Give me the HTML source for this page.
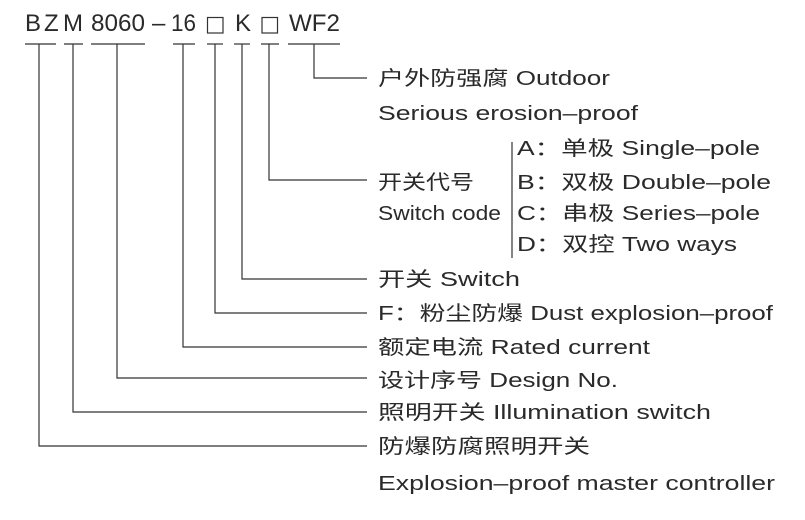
<!DOCTYPE html>
<html><head><meta charset="utf-8"><style>
html,body{margin:0;padding:0;background:#fff;}
svg{display:block}
text{font-family:"Liberation Sans","Noto Sans CJK SC",sans-serif;fill:#2a2a2a;font-size:20px;}
.t{font-size:24px;}
</style></head><body>
<svg width="805" height="520" viewBox="0 0 805 520" xmlns="http://www.w3.org/2000/svg">
<g class="t">
<text class="t" x="25" y="31">B</text>
<text class="t" x="44" y="31">Z</text>
<text class="t" x="63" y="31">M</text>
<text class="t" x="91" y="31" textLength="54" lengthAdjust="spacingAndGlyphs">8060</text>
<text class="t" x="152" y="31">–</text>
<text class="t" x="171" y="31" textLength="25" lengthAdjust="spacingAndGlyphs">16</text>
<rect x="207.5" y="17.5" width="15.5" height="15.5" fill="none" stroke="#333" stroke-width="1.2"/>
<text class="t" x="235" y="31">K</text>
<rect x="262" y="17.5" width="15.5" height="15.5" fill="none" stroke="#333" stroke-width="1.2"/>
<text class="t" x="289" y="31" textLength="51" lengthAdjust="spacingAndGlyphs">WF2</text>
</g>
<g stroke="#333" stroke-width="1.2" fill="none">
<line x1="25" y1="44" x2="56" y2="44"/>
<line x1="64" y1="44" x2="83" y2="44"/>
<line x1="91" y1="44" x2="145" y2="44"/>
<line x1="173" y1="44" x2="195" y2="44"/>
<line x1="207" y1="44" x2="223" y2="44"/>
<line x1="234" y1="44" x2="250" y2="44"/>
<line x1="261" y1="44" x2="279" y2="44"/>
<line x1="288" y1="44" x2="340" y2="44"/>
<polyline points="314,44 314,78 367,78"/>
<polyline points="269,44 269,180 367,180"/>
<polyline points="242,44 242,279 367,279"/>
<polyline points="215,44 215,313 367,313"/>
<polyline points="183,44 183,347 367,347"/>
<polyline points="117,44 117,378 367,378"/>
<polyline points="73,44 73,412 367,412"/>
<polyline points="39,44 39,446 367,446"/>
<line x1="512" y1="142" x2="512" y2="258"/>
</g>
<text x="378" y="85" textLength="232" lengthAdjust="spacingAndGlyphs">户外防强腐  Outdoor</text>
<text x="378" y="120" textLength="260" lengthAdjust="spacingAndGlyphs">Serious erosion–proof</text>
<text x="378" y="189" textLength="96" lengthAdjust="spacingAndGlyphs">开关代号</text>
<text x="378" y="220" textLength="123" lengthAdjust="spacingAndGlyphs">Switch code</text>
<text x="517" y="155" textLength="243" lengthAdjust="spacingAndGlyphs">A：单极  Single–pole</text>
<text x="517" y="189" textLength="254" lengthAdjust="spacingAndGlyphs">B：双极  Double–pole</text>
<text x="517" y="220" textLength="243" lengthAdjust="spacingAndGlyphs">C：串极  Series–pole</text>
<text x="517" y="251" textLength="220" lengthAdjust="spacingAndGlyphs">D：双控  Two ways</text>
<text x="378" y="286" textLength="142" lengthAdjust="spacingAndGlyphs">开关  Switch</text>
<text x="378" y="320" textLength="395" lengthAdjust="spacingAndGlyphs">F：粉尘防爆  Dust explosion–proof</text>
<text x="378" y="354" textLength="272" lengthAdjust="spacingAndGlyphs">额定电流  Rated current</text>
<text x="378" y="387" textLength="240" lengthAdjust="spacingAndGlyphs">设计序号  Design No.</text>
<text x="378" y="419" textLength="333" lengthAdjust="spacingAndGlyphs">照明开关  Illumination switch</text>
<text x="378" y="453" textLength="212" lengthAdjust="spacingAndGlyphs">防爆防腐照明开关</text>
<text x="378" y="490" textLength="397" lengthAdjust="spacingAndGlyphs">Explosion–proof master controller</text>
</svg>
</body></html>
